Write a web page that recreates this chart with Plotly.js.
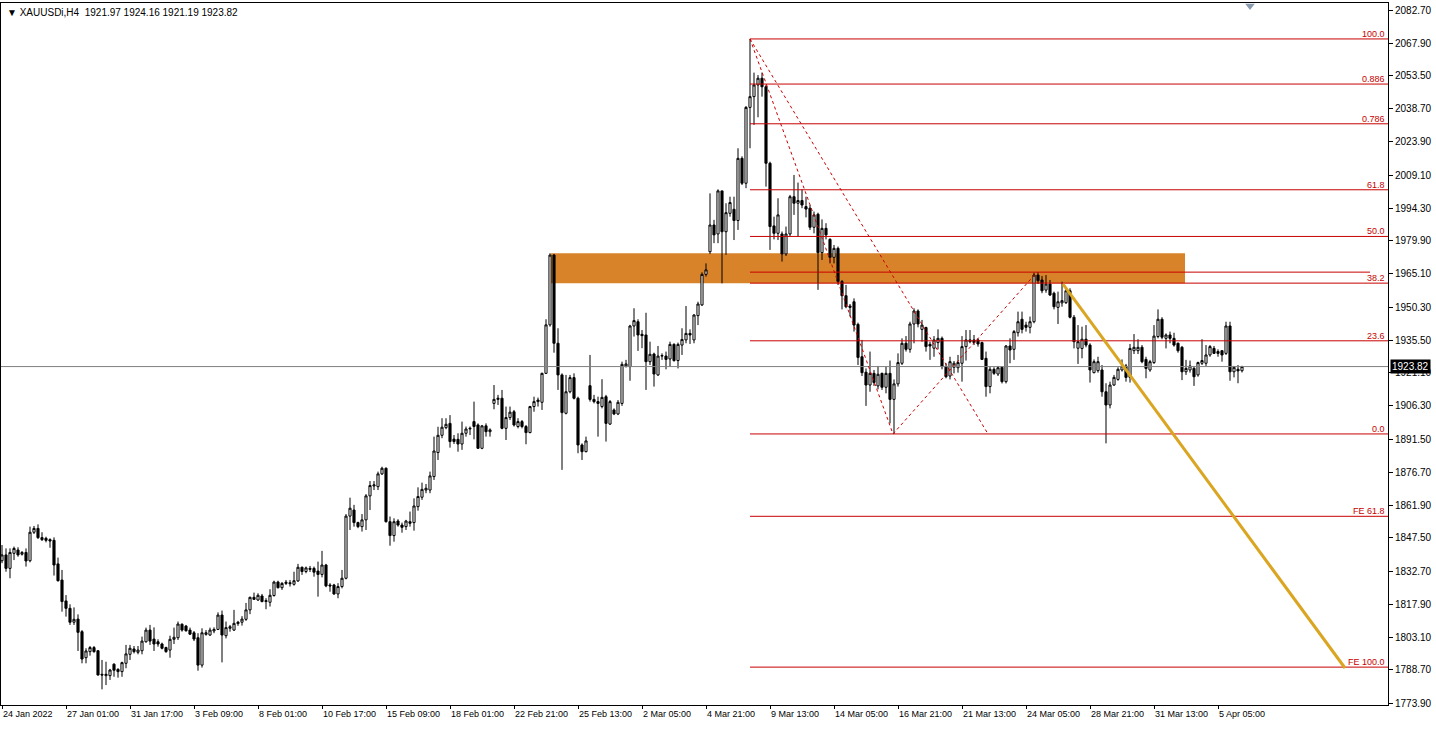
<!DOCTYPE html>
<html>
<head>
<meta charset="utf-8">
<script src="https://cdn.plot.ly/plotly-3.0.1.min.js"></script>
<style>
html,body{margin:0;padding:0;background:#ffffff;}
#chart{width:1436px;height:729px;}
</style>
</head>
<body>
<div id="chart"></div>
<script>
// ---- data ----
const opens = [
1837.3,1839.9,1833.9,1840.6,1842.1,1840.2,1841.0,1837.3,1850.0,1851.7,
1847.6,1847.3,1846.7,1846.4,1835.9,1828.7,1819.4,1816.1,1809.9,1811.3,
1805.7,1794.1,1796.8,1798.6,1797.2,1786.7,1786.1,1786.1,1791.2,1788.9,
1787.9,1791.6,1795.6,1798.0,1796.5,1797.2,1801.2,1806.4,1802.4,1801.2,
1800.2,1798.6,1797.5,1802.3,1803.0,1809.0,1808.2,1806.4,1805.2,1803.0,
1790.8,1804.5,1804.2,1806.0,1806.7,1813.1,1803.9,1807.2,1806.4,1809.3,
1809.9,1811.2,1815.4,1821.0,1819.8,1821.6,1819.1,1818.8,1821.8,1827.8,
1825.3,1827.2,1827.5,1826.8,1828.3,1834.4,1832.5,1833.9,1833.9,1832.7,
1831.2,1835.4,1826.5,1826.5,1822.5,1825.8,1829.5,1857.2,1859.9,1854.3,
1852.5,1855.5,1866.2,1870.6,1870.3,1876.0,1878.5,1854.7,1848.5,1855.0,
1853.2,1852.5,1854.7,1854.3,1861.4,1865.6,1868.8,1868.8,1874.8,1885.5,
1893.2,1896.6,1898.5,1891.5,1891.4,1889.3,1894.1,1896.0,1899.3,1897.8,
1887.4,1897.4,1894.8,1907.4,1909.2,1909.7,1896.3,1901.1,1903.7,1897.1,
1899.3,1897.1,1894.4,1906.0,1908.2,1907.9,1920.8,1942.4,1973.5,1934.2,
1920.1,1903.0,1912.6,1918.9,1909.7,1888.9,1885.9,1915.3,1909.2,1908.2,
1906.0,1910.4,1898.2,1904.5,1902.7,1907.4,1924.1,1923.8,1941.9,1943.8,
1938.2,1937.9,1926.0,1929.4,1920.1,1928.5,1928.5,1927.2,1933.7,1926.5,
1933.4,1935.7,1938.6,1935.7,1946.5,1951.3,1964.9,1975.0,1986.9,1982.9,
2002.1,1983.9,1992.1,1993.9,1988.9,2016.6,2005.5,2039.3,2044.1,2049.3,
2052.3,2048.5,2014.4,1986.5,1983.2,1982.9,1974.0,1982.9,1999.5,1996.6,
1997.8,1995.1,1994.4,1985.9,1991.7,1974.6,1985.4,1980.5,1972.5,1976.5,
1961.7,1955.4,1950.8,1952.7,1942.6,1928.2,1921.3,1915.6,1920.8,1915.2,
1920.8,1914.6,1920.8,1909.2,1916.1,1925.3,1934.2,1931.5,1942.8,1948.6,
1940.4,1941.2,1933.7,1932.0,1934.5,1936.4,1923.8,1919.6,1923.5,1923.3,
1925.3,1932.7,1934.9,1935.7,1935.7,1934.5,1927.5,1914.9,1922.6,1920.5,
1923.5,1917.1,1933.0,1931.5,1938.9,1944.9,1942.3,1941.3,1943.8,1964.6,
1962.4,1957.9,1960.6,1956.5,1950.2,1952.2,1952.3,1957.6,1945.8,1932.0,
1931.9,1936.0,1933.4,1921.1,1922.0,1922.3,1912.6,1906.7,1915.6,1918.1,
1922.3,1924.1,1919.0,1930.9,1930.9,1932.4,1927.0,1922.3,1925.6,1937.2,
1944.9,1936.4,1937.9,1936.4,1934.2,1932.4,1921.5,1922.3,1923.0,1920.1,
1925.3,1925.3,1929.0,1931.9,1930.5,1930.9,1929.7,1941.9,1921.5,1922.6,
1921.97];
const highs = [
1844.3,1842.8,1842.8,1843.6,1843.3,1841.6,1842.8,1852.5,1852.8,1853.5,
1850.0,1848.0,1847.3,1847.7,1838.7,1833.2,1822.0,1817.9,1816.5,1813.4,
1806.4,1798.3,1799.3,1799.3,1797.5,1793.1,1792.3,1789.1,1791.6,1789.4,
1792.3,1799.8,1799.8,1799.3,1799.3,1803.5,1807.5,1808.7,1807.6,1802.3,
1800.8,1799.0,1803.9,1807.5,1810.2,1809.4,1808.7,1807.5,1806.0,1805.0,
1807.2,1806.4,1807.5,1807.6,1814.3,1815.1,1810.2,1808.7,1815.4,1810.5,
1812.6,1818.5,1821.3,1823.1,1822.8,1822.5,1820.6,1824.6,1828.4,1828.4,
1827.8,1828.7,1828.7,1832.4,1835.9,1834.7,1834.7,1835.0,1834.7,1836.9,
1841.7,1835.9,1827.3,1827.0,1827.3,1833.2,1858.1,1865.4,1862.2,1854.7,
1858.1,1867.0,1872.8,1872.8,1877.0,1879.2,1878.9,1857.0,1856.2,1855.8,
1854.3,1855.5,1859.2,1865.1,1870.0,1872.1,1871.5,1877.0,1892.6,1897.0,
1900.8,1900.8,1902.2,1893.3,1894.1,1899.3,1897.1,1897.1,1908.2,1898.5,
1897.8,1898.5,1896.3,1915.6,1911.2,1913.4,1906.0,1906.0,1904.5,1900.8,
1900.0,1897.8,1906.3,1910.4,1910.0,1921.1,1944.9,1974.3,1974.0,1940.9,
1920.8,1920.1,1920.1,1920.8,1910.4,1889.6,1892.6,1929.0,1911.2,1910.4,
1918.2,1911.2,1908.9,1905.2,1908.9,1926.0,1926.8,1942.4,1949.8,1944.9,
1940.1,1947.8,1934.9,1930.0,1933.0,1929.7,1930.5,1934.9,1934.2,1934.5,
1940.9,1950.8,1940.4,1947.2,1952.7,1965.8,1969.8,2001.0,1989.2,2002.8,
2002.1,1996.6,1999.5,1999.5,2021.1,2017.5,2039.9,2069.8,2054.8,2053.7,
2054.8,2049.3,2015.1,1990.6,1998.8,1984.0,1986.2,2000.3,2009.2,2005.8,
2002.8,1999.5,1995.8,1992.9,1992.4,1989.4,1987.7,1981.0,1978.0,1977.3,
1962.4,1960.2,1951.7,1954.2,1943.4,1935.7,1923.0,1930.5,1922.3,1924.1,
1921.1,1923.8,1926.5,1918.1,1929.7,1936.4,1937.4,1943.8,1949.8,1949.3,
1944.6,1941.6,1934.9,1937.4,1940.4,1937.2,1925.3,1928.2,1926.3,1929.0,
1937.4,1940.1,1940.1,1937.9,1936.4,1934.9,1930.5,1923.8,1923.5,1924.1,
1923.8,1933.4,1936.4,1940.1,1948.3,1948.3,1943.8,1946.1,1965.7,1965.9,
1964.2,1964.6,1962.4,1957.2,1957.2,1961.6,1958.7,1958.7,1946.8,1942.3,
1941.6,1942.3,1934.2,1927.0,1928.2,1924.5,1916.4,1917.1,1920.1,1923.5,
1927.0,1925.0,1933.9,1938.3,1936.0,1933.4,1928.2,1926.8,1942.3,1949.3,
1945.8,1938.6,1939.4,1938.9,1934.5,1933.0,1926.8,1926.5,1924.1,1926.0,
1936.0,1933.4,1933.4,1933.0,1931.5,1931.2,1943.8,1943.8,1924.1,1924.5,
1924.16];
const lows = [
1836.2,1832.4,1829.5,1837.6,1839.1,1839.6,1834.7,1836.6,1849.2,1847.0,
1846.1,1845.5,1843.1,1830.7,1828.0,1814.6,1812.4,1808.7,1808.7,1797.1,
1791.6,1791.6,1795.0,1796.3,1786.1,1780.0,1781.9,1784.2,1785.6,1785.2,
1785.6,1789.4,1793.1,1796.0,1795.6,1795.6,1800.8,1799.8,1797.1,1799.0,
1797.8,1796.3,1794.1,1800.2,1802.0,1805.7,1805.7,1804.2,1801.5,1788.3,
1789.7,1803.9,1803.8,1805.0,1806.4,1792.0,1802.7,1805.7,1806.0,1808.3,
1808.4,1810.5,1813.5,1819.8,1819.4,1818.8,1815.7,1816.9,1821.3,1824.9,
1824.3,1826.5,1825.8,1826.2,1827.9,1831.0,1831.7,1832.3,1830.2,1821.3,
1829.9,1825.5,1823.5,1822.1,1820.6,1825.0,1829.0,1851.0,1852.5,1851.8,
1850.3,1851.0,1859.9,1868.8,1868.8,1875.5,1854.3,1844.0,1845.8,1852.5,
1849.8,1851.0,1852.5,1850.7,1859.6,1864.4,1867.4,1867.4,1873.3,1882.2,
1891.9,1895.9,1887.7,1889.3,1885.9,1886.7,1892.6,1893.3,1891.4,1887.1,
1887.0,1892.6,1892.6,1904.8,1906.7,1895.9,1891.1,1900.0,1897.1,1896.3,
1896.3,1889.2,1894.1,1903.7,1906.0,1904.5,1920.5,1941.6,1930.0,1913.4,
1877.8,1902.5,1911.9,1909.2,1885.2,1882.2,1885.6,1908.2,1907.4,1892.6,
1905.2,1890.4,1897.8,1902.2,1902.2,1906.3,1923.4,1917.5,1937.2,1930.8,
1932.0,1913.4,1924.5,1914.9,1919.6,1926.8,1922.6,1923.8,1926.0,1923.0,
1929.0,1934.2,1933.9,1934.2,1942.3,1950.8,1963.9,1974.0,1978.8,1978.8,
1960.9,1973.6,1990.6,1980.2,1984.7,2004.7,2003.3,2021.1,2031.5,2034.9,
2044.1,2004.0,1975.8,1980.5,1980.2,1970.6,1973.1,1982.0,1991.4,1981.7,
1994.4,1990.3,1984.7,1983.2,1958.0,1971.3,1980.5,1969.8,1969.8,1960.2,
1949.3,1949.8,1946.1,1939.4,1924.5,1919.6,1906.3,1912.6,1915.2,1913.7,
1913.4,1911.9,1898.5,1893.8,1914.9,1924.5,1930.5,1930.0,1934.2,1941.3,
1934.9,1930.5,1926.8,1928.2,1931.5,1922.6,1918.6,1918.1,1920.8,1921.1,
1917.1,1926.5,1934.2,1933.4,1932.7,1926.8,1910.4,1911.9,1920.1,1919.6,
1916.3,1916.3,1925.3,1926.8,1937.2,1938.6,1939.4,1938.6,1943.1,1960.6,
1956.5,1956.7,1955.3,1949.3,1942.8,1950.5,1951.7,1945.3,1931.9,1925.0,
1927.5,1932.4,1916.7,1920.8,1921.1,1910.4,1889.6,1905.2,1915.2,1917.5,
1921.6,1917.1,1916.7,1929.4,1929.4,1925.3,1918.6,1921.5,1925.0,1936.4,
1936.0,1931.9,1934.2,1932.7,1930.0,1917.8,1920.1,1921.1,1915.2,1919.3,
1924.5,1924.1,1928.2,1929.4,1928.2,1926.0,1929.0,1917.5,1919.0,1916.4,
1921.19];
const closes = [
1839.9,1833.9,1841.0,1842.8,1839.9,1841.0,1837.2,1850.0,1851.7,1847.6,
1846.7,1846.4,1846.1,1835.4,1828.4,1819.1,1816.1,1809.9,1811.2,1805.4,
1793.5,1797.1,1798.6,1796.8,1786.4,1786.4,1786.7,1788.6,1788.5,1787.9,
1791.9,1795.8,1798.3,1796.8,1797.5,1801.5,1806.4,1801.5,1800.2,1800.2,
1798.3,1796.8,1802.3,1803.2,1809.1,1806.4,1806.1,1804.6,1802.4,1790.8,
1805.2,1805.2,1806.4,1806.7,1813.1,1804.2,1807.5,1807.9,1809.4,1809.9,
1811.3,1815.4,1821.0,1820.1,1821.9,1819.1,1819.5,1821.9,1827.8,1825.3,
1827.2,1827.7,1827.1,1828.4,1834.4,1832.5,1834.1,1833.5,1832.2,1831.2,
1835.4,1826.1,1826.1,1822.5,1825.8,1829.5,1857.2,1860.7,1854.3,1852.5,
1855.5,1866.2,1870.8,1871.1,1876.0,1878.5,1854.7,1848.5,1854.7,1853.2,
1852.2,1855.0,1854.0,1861.7,1865.9,1869.1,1869.6,1875.1,1886.2,1893.2,
1896.8,1898.1,1890.4,1890.4,1889.3,1894.1,1896.0,1896.3,1897.1,1887.4,
1897.4,1894.8,1895.6,1909.2,1909.7,1896.3,1901.1,1903.5,1897.8,1899.3,
1897.1,1894.4,1906.0,1908.2,1908.9,1920.8,1942.4,1973.5,1934.2,1920.1,
1903.3,1912.6,1918.9,1909.7,1888.9,1885.9,1890.7,1909.2,1908.2,1907.4,
1910.1,1898.5,1908.2,1902.7,1907.9,1924.8,1925.0,1941.9,1944.3,1937.9,
1937.6,1926.0,1929.3,1920.5,1928.5,1928.7,1927.0,1933.7,1926.5,1933.7,
1935.9,1938.6,1937.9,1946.8,1951.7,1964.9,1966.9,1986.9,1982.5,2002.1,
1983.9,1992.4,1996.9,1988.9,2016.6,2005.5,2039.3,2044.1,2049.3,2052.3,
2048.5,2014.4,1986.2,1983.2,1991.4,1974.0,1982.9,1999.5,1996.6,1997.8,
1995.8,1994.0,1985.9,1991.4,1974.6,1985.4,1982.5,1972.5,1976.5,1961.7,
1955.4,1950.5,1950.2,1942.3,1927.9,1921.1,1915.6,1920.8,1916.7,1920.4,
1914.6,1920.8,1909.2,1916.1,1925.6,1934.2,1931.5,1942.8,1948.6,1942.8,
1942.3,1932.7,1933.0,1935.7,1936.4,1923.8,1919.3,1926.0,1925.3,1925.6,
1932.7,1935.7,1935.7,1934.5,1933.9,1927.0,1914.9,1922.6,1920.8,1923.3,
1917.1,1933.0,1931.2,1939.4,1943.8,1940.4,1941.3,1943.8,1964.6,1962.1,
1957.6,1960.6,1955.7,1950.5,1952.7,1953.2,1957.6,1945.8,1934.9,1934.9,
1936.0,1933.4,1922.3,1926.0,1926.0,1912.6,1906.7,1915.6,1919.0,1922.6,
1924.1,1919.0,1931.9,1932.4,1932.4,1926.0,1923.0,1926.0,1937.4,1944.9,
1936.9,1937.9,1936.4,1933.4,1930.9,1921.5,1923.0,1924.1,1919.3,1925.6,
1926.5,1929.0,1932.7,1929.7,1929.7,1929.0,1941.9,1921.5,1923.5,1921.9,
1923.82];

// x-axis labels, one every 16 bars
const timeLabels = ["24 Jan 2022","27 Jan 01:00","31 Jan 17:00","3 Feb 09:00","8 Feb 01:00",
  "10 Feb 17:00","15 Feb 09:00","18 Feb 01:00","22 Feb 21:00","25 Feb 13:00","2 Mar 05:00",
  "4 Mar 21:00","9 Mar 13:00","14 Mar 05:00","16 Mar 21:00","21 Mar 13:00","24 Mar 05:00",
  "28 Mar 21:00","31 Mar 13:00","5 Apr 05:00"];
const labelStep = 16;

// price scale labels
const priceTicks = [2082.70,2067.90,2053.50,2038.70,2023.90,2009.10,1994.30,1979.90,1965.10,
  1950.30,1935.50,1921.10,1906.30,1891.50,1876.70,1861.90,1847.50,1832.70,1817.90,1803.10,
  1788.70,1773.90];

// Fibonacci retracement levels
const fibNames  = ["100.0","0.886","0.786","61.8","50.0","38.2","23.6","0.0"];
const fibPrices = [2069.8,2049.7,2032.0,2002.6,1981.8,1961.0,1935.3,1893.8];
// Fibonacci expansion levels
const feNames  = ["FE 61.8","FE 100.0"];
const fePrices = [1857.1,1789.9];
const feZero = 1965.9;

// anchor bars / prices of the drawn objects
const fibStartBar = 187;
const feZeroEndBar = 342;
const zoneBars = [137.25, 295.75];
const zonePrices = [1960.9, 1974.3];
const waveBars = [187, 222.75, 258.75];
const wavePrices = [2069.8, 1893.8, 1965.9];
const fibDiagBars = [187, 246.5];
const fibDiagPrices = [2069.8, 1893.8];
const trendBars = [265.25, 335.75];
const trendPrices = [1960.6, 1789.5];
const lastPrice = 1923.82;
const header = "XAUUSDi,H4  1921.97 1924.16 1921.19 1923.82";

// ---- chart ----
const idx = opens.map((_, i) => i);
const xRange = [-0.25, 346.5];
const yRange = [1773.02, 2085.82];
const FIB = "#c80000";
const FONT = "Liberation Sans, Arial, sans-serif";

const trace = {
  type: "candlestick",
  x: idx, open: opens, high: highs, low: lows, close: closes,
  increasing: {line: {color: "#000000", width: 1}, fillcolor: "#ffffff"},
  decreasing: {line: {color: "#000000", width: 1}, fillcolor: "#000000"},
  whiskerwidth: 0,
  hoverinfo: "skip",
  showlegend: false
};

const shapes = [];
shapes.push({type: "rect", xref: "x", yref: "y", x0: zoneBars[0], x1: zoneBars[1],
  y0: zonePrices[0], y1: zonePrices[1], fillcolor: "#d8832a", line: {width: 0}, layer: "below"});
fibPrices.forEach(p => shapes.push({type: "line", xref: "x", yref: "y", x0: fibStartBar, x1: xRange[1],
  y0: p, y1: p, line: {color: FIB, width: 1}}));
fePrices.forEach(p => shapes.push({type: "line", xref: "x", yref: "y", x0: fibStartBar, x1: xRange[1],
  y0: p, y1: p, line: {color: FIB, width: 1}}));
shapes.push({type: "line", xref: "x", yref: "y", x0: fibStartBar, x1: feZeroEndBar,
  y0: feZero, y1: feZero, line: {color: FIB, width: 1}});
shapes.push({type: "line", xref: "paper", yref: "y", x0: 0, x1: 1, y0: lastPrice, y1: lastPrice,
  line: {color: "#808080", width: 1}});
for (let k = 0; k < waveBars.length - 1; k++) {
  shapes.push({type: "line", xref: "x", yref: "y", x0: waveBars[k], x1: waveBars[k+1],
    y0: wavePrices[k], y1: wavePrices[k+1], line: {color: FIB, width: 1, dash: "dot"}});
}
shapes.push({type: "line", xref: "x", yref: "y", x0: fibDiagBars[0], x1: fibDiagBars[1],
  y0: fibDiagPrices[0], y1: fibDiagPrices[1], line: {color: FIB, width: 1, dash: "dot"}});
shapes.push({type: "line", xref: "x", yref: "y", x0: trendBars[0], x1: trendBars[1],
  y0: trendPrices[0], y1: trendPrices[1], line: {color: "#daa520", width: 3}});
// chart-shift marker at the top
shapes.push({type: "path", xref: "x", yref: "paper",
  path: "M 310.8 0.999 L 313.2 0.999 L 312 0.99 Z", fillcolor: "#8a9bb0", line: {width: 0}});

const annotations = [];
annotations.push({xref: "paper", yref: "paper", x: 0, y: 1, xanchor: "left", yanchor: "top",
  xshift: 4, yshift: -2, showarrow: false, text: "\u25BC " + header,
  font: {family: FONT, size: 10, color: "#000000"}});
fibNames.forEach((n, i) => annotations.push({xref: "paper", yref: "y", x: 1, y: fibPrices[i],
  xanchor: "right", yanchor: "bottom", xshift: -1, yshift: -2, showarrow: false, text: n,
  font: {family: FONT, size: 9, color: FIB}}));
feNames.forEach((n, i) => annotations.push({xref: "paper", yref: "y", x: 1, y: fePrices[i],
  xanchor: "right", yanchor: "bottom", xshift: -1, yshift: -2, showarrow: false, text: n,
  font: {family: FONT, size: 9, color: FIB}}));
annotations.push({xref: "paper", yref: "y", x: 1, y: lastPrice, xanchor: "left", yanchor: "middle",
  xshift: 2, showarrow: false, text: lastPrice.toFixed(2), bgcolor: "#000000", borderpad: 1,
  font: {family: FONT, size: 10, color: "#ffffff"}});

const layout = {
  width: 1436, height: 729,
  margin: {l: 1, r: 48, t: 3, b: 24, pad: 0},
  paper_bgcolor: "#ffffff", plot_bgcolor: "#ffffff",
  showlegend: false,
  hovermode: false,
  boxgap: 0.25,
  xaxis: {
    type: "linear", range: xRange, fixedrange: true,
    rangeslider: {visible: false},
    tickmode: "array",
    tickvals: timeLabels.map((_, i) => i * labelStep),
    ticktext: timeLabels,
    tickangle: 0,
    ticks: "outside", ticklen: 3, tickcolor: "#000000",
    ticklabelposition: "outside right",
    tickfont: {family: FONT, size: 9, color: "#000000"},
    showgrid: false, zeroline: false,
    showline: true, linecolor: "#000000", linewidth: 1, mirror: true
  },
  yaxis: {
    side: "right", range: yRange, fixedrange: true,
    tickmode: "array",
    tickvals: priceTicks,
    ticktext: priceTicks.map(v => v.toFixed(2)),
    ticks: "outside", ticklen: 4, tickcolor: "#000000",
    tickfont: {family: FONT, size: 10, color: "#000000"},
    showgrid: false, zeroline: false,
    showline: true, linecolor: "#000000", linewidth: 1, mirror: true
  },
  shapes: shapes,
  annotations: annotations
};

Plotly.newPlot("chart", [trace], layout, {displayModeBar: false, staticPlot: true});
</script>
</body>
</html>
